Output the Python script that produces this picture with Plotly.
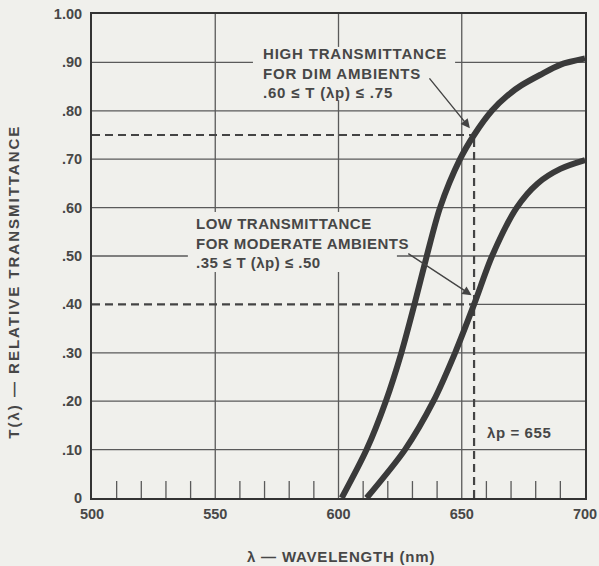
import plotly.graph_objects as go

# ---- data ----
wl_high = [601.3, 611.4, 619.2, 625.5, 630.8, 635.8, 641.2, 649.3, 655.0, 662.2, 668.9, 674.3, 681.7, 689.9, 700.0]
t_high = [0.0, 0.10, 0.20, 0.30, 0.40, 0.50, 0.60, 0.70, 0.75, 0.80, 0.833, 0.853, 0.874, 0.895, 0.908]

wl_low = [611.4, 627.0, 638.5, 647.3, 655.0, 662.3, 672.3, 680.8, 690.0, 700.0]
t_low = [0.0, 0.10, 0.20, 0.30, 0.40, 0.50, 0.60, 0.65, 0.68, 0.698]

peak_wl = 655
t_high_ref = 0.75
t_low_ref = 0.40

x_ticks = [500, 550, 600, 650, 700]
y_ticks = [0, 0.1, 0.2, 0.3, 0.4, 0.5, 0.6, 0.7, 0.8, 0.9, 1.0]
y_tick_text = ["0", ".10", ".20", ".30", ".40", ".50", ".60", ".70", ".80", ".90", "1.00"]

high_lines = ["HIGH TRANSMITTANCE", "FOR DIM AMBIENTS", ".60 ≤ T (λp) ≤ .75"]
low_lines = ["LOW TRANSMITTANCE", "FOR MODERATE AMBIENTS", ".35 ≤ T (λp) ≤ .50"]
peak_label = "λp = 655"
y_title = "T(λ) — RELATIVE TRANSMITTANCE"
x_title = "λ — WAVELENGTH (nm)"

BG = "#f0f0ec"
INK = "#3a3a3a"
GRID = "#5a5a5a"
TXT = "#474747"
FONT = "Liberation Sans, Arial, sans-serif"


def spaced(lines, ls):
    return "<br>".join(f'<span style="letter-spacing:{ls}px">{s}</span>' for s in lines)


fig = go.Figure()

shapes = []


def hline(y, x0, x1, dash=None, w=1.3, color=GRID):
    ln = dict(color=color, width=w)
    if dash:
        ln["dash"] = dash
    shapes.append(dict(type="line", xref="x", yref="y", x0=x0, x1=x1, y0=y, y1=y,
                       line=ln, layer="below"))


def vline(x, y0, y1, dash=None, w=1.3, color=GRID):
    ln = dict(color=color, width=w)
    if dash:
        ln["dash"] = dash
    shapes.append(dict(type="line", xref="x", yref="y", x0=x, x1=x, y0=y0, y1=y1,
                       line=ln, layer="below"))


# grid segments (interrupted by the text blocks like the original)
for yv in [0.1, 0.2, 0.3, 0.6, 0.7, 0.8]:
    hline(yv, 500, 700)
hline(0.9, 500, 565.3)
hline(0.9, 647.3, 700)
hline(0.5, 500, 538.9)
hline(0.5, 623.7, 700)
hline(0.4, peak_wl, 700)

vline(650, 0, 1)
vline(550, 0, 0.467)
vline(550, 0.591, 1)
vline(600, 0, 0.467)
vline(600, 0.591, 0.822)
vline(600, 0.932, 1)

# minor ticks along the bottom, every 10 nm
for xv in range(510, 700, 10):
    if xv % 50 != 0:
        vline(xv, 0, 0.035)

# dashed reference lines
DASH = "8px,5px"
hline(t_high_ref, 500, peak_wl, dash=DASH, w=2.2, color="#444444")
hline(t_low_ref, 500, peak_wl, dash=DASH, w=2.2, color="#444444")
vline(peak_wl, 0, t_high_ref, dash=DASH, w=2.2, color="#444444")

# curves
for xs, ys in [(wl_high, t_high), (wl_low, t_low)]:
    fig.add_trace(go.Scatter(x=xs, y=ys, mode="lines",
                             line=dict(color=INK, width=6, shape="spline", smoothing=0.8),
                             hoverinfo="skip", showlegend=False))

tf = dict(family=FONT, size=15, color=TXT, weight="bold")
annotations = [
    dict(x=568.5, y=0.878, xref="x", yref="y", xanchor="left", yanchor="middle", align="left",
         showarrow=False, text=spaced(high_lines, 0.8), font=tf),
    dict(x=541.3, y=0.527, xref="x", yref="y", xanchor="left", yanchor="middle", align="left",
         showarrow=False, text=spaced(low_lines, 0.5), font=tf),
    dict(x=659.5, y=0.136, xref="x", yref="y", xanchor="left", yanchor="middle",
         showarrow=False, text=spaced([peak_label], 0.6), font=tf),
    dict(x=653.3, y=0.764, ax=636.4, ay=0.870, xref="x", yref="y", axref="x", ayref="y",
         text="", showarrow=True, arrowhead=2, arrowsize=1.3, arrowwidth=1.4,
         arrowcolor="#444444", standoff=0, startstandoff=0),
    dict(x=654.0, y=0.419, ax=627.7, ay=0.507, xref="x", yref="y", axref="x", ayref="y",
         text="", showarrow=True, arrowhead=2, arrowsize=1.3, arrowwidth=1.4,
         arrowcolor="#444444", standoff=0, startstandoff=0),
    dict(x=-0.158, y=0.447, xref="paper", yref="paper", xanchor="center", yanchor="middle",
         textangle=-90, showarrow=False, text=spaced([y_title], 2.0), font=tf),
    dict(x=0.505, y=-0.12, xref="paper", yref="paper", xanchor="center", yanchor="middle",
         showarrow=False, text=spaced([x_title], 0.8), font=tf),
]

fig.update_layout(
    width=599, height=566,
    margin=dict(l=92, r=14, t=14, b=68, autoexpand=False),
    paper_bgcolor=BG, plot_bgcolor=BG,
    shapes=shapes, annotations=annotations,
    showlegend=False,
)
tick_font = dict(family=FONT, size=14.5, color=TXT, weight="bold")
fig.update_xaxes(range=[500, 700], tickvals=x_ticks, ticks="outside", ticklen=2,
                 tickcolor="rgba(0,0,0,0)", showgrid=False, zeroline=False,
                 showline=True, mirror=True, linecolor="#333333", linewidth=2,
                 tickfont=tick_font, automargin=False)
fig.update_yaxes(range=[0, 1], tickvals=y_ticks, ticktext=y_tick_text, ticks="outside", ticklen=5,
                 tickcolor="rgba(0,0,0,0)", showgrid=False, zeroline=False,
                 showline=True, mirror=True, linecolor="#333333", linewidth=2,
                 tickfont=tick_font, automargin=False)

fig.write_html(
    "out.html",
    config={"displayModeBar": False},
    post_script="document.body.style.margin='0';document.body.style.backgroundColor='" + BG + "';",
)
